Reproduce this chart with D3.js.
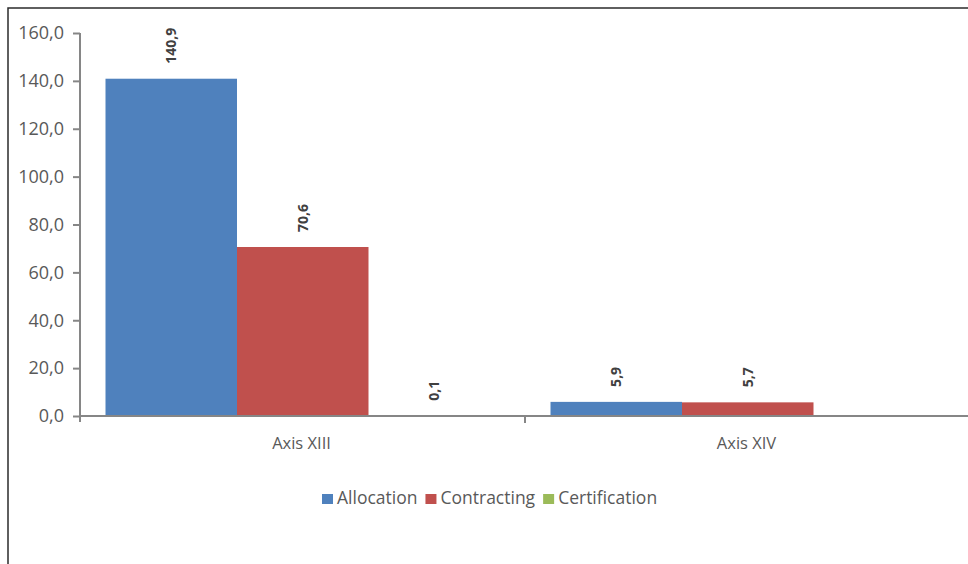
<!DOCTYPE html>
<html>
<head>
<meta charset="utf-8">
<script src="https://cdn.jsdelivr.net/npm/d3@7"></script>
<style>
  body { margin: 0; background: #fff; }
  svg { display: block; font-family: "Open Sans", sans-serif; }
</style>
</head>
<body>
<div id="chart"></div>
<script>
const categories = ['Axis XIII', 'Axis XIV'];
const seriesNames = ['Allocation', 'Contracting', 'Certification'];
const seriesColors = ['#4F81BD', '#C0504D', '#9BBB59'];
const allocation = [140.9, 5.9];
const contracting = [70.6, 5.7];
const certification = [0.1, null];
const yTicks = [0, 20, 40, 60, 80, 100, 120, 140, 160];

const width = 968, height = 564;
const margin = { top: 33, left: 80, bottom: 148 };
const plotBottom = height - margin.bottom; // 416

const fmt = v => d3.format('.1f')(v).replace('.', ',');

const svg = d3.select('#chart').append('svg')
  .attr('width', width)
  .attr('height', height);

// chart frame (only top/left visible in the photo)
svg.append('path')
  .attr('d', `M8,${height + 2}V8H${width + 2}`)
  .attr('fill', 'none')
  .attr('stroke', '#2b2b2b')
  .attr('stroke-width', 1.5);

const y = d3.scaleLinear()
  .domain([0, 160])
  .range([plotBottom, margin.top]);

const x0 = d3.scaleBand()
  .domain(categories)
  .range([margin.left, margin.left + 445 * categories.length]);

const x1 = d3.scaleBand()
  .domain(seriesNames)
  .range([25.5, x0.bandwidth() - 25]);

const rows = categories.map((c, i) => ({
  category: c,
  values: [allocation[i], contracting[i], certification[i]]
}));

// bars
const groups = svg.append('g').selectAll('g')
  .data(rows)
  .enter()
  .append('g')
  .attr('transform', d => `translate(${x0(d.category)},0)`);

groups.selectAll('rect')
  .data(d => d.values.map((v, j) => ({ name: seriesNames[j], value: v, color: seriesColors[j] })))
  .enter()
  .filter(d => d.value !== null)
  .append('rect')
  .attr('x', d => x1(d.name))
  .attr('width', x1.bandwidth())
  .attr('y', d => y(d.value))
  .attr('height', d => y(0) - y(d.value))
  .attr('fill', d => d.color);

// data labels
groups.selectAll('text')
  .data(d => d.values.map((v, j) => ({ name: seriesNames[j], value: v })))
  .enter()
  .filter(d => d.value !== null)
  .append('text')
  .attr('transform', d => `translate(${x1(d.name) + x1.bandwidth() / 2},${y(d.value) - 15}) rotate(-90)`)
  .attr('dy', '0.36em')
  .style('text-anchor', 'start')
  .style('font-size', '14px')
  .style('font-weight', 'bold')
  .style('fill', '#404040')
  .text(d => fmt(d.value));

// y axis
const yAxis = d3.axisLeft(y)
  .tickValues(yTicks)
  .tickSize(7)
  .tickPadding(9)
  .tickFormat(fmt);

const yg = svg.append('g')
  .attr('transform', `translate(${margin.left},0)`)
  .call(yAxis);
yg.select('.domain').remove();
yg.append('line')
  .attr('y1', margin.top).attr('y2', plotBottom + 6)
  .attr('stroke', '#868686').attr('stroke-width', 2);
yg.selectAll('.tick line').attr('stroke', '#868686').attr('stroke-width', 2);
yg.selectAll('.tick text')
  .style('font-size', '18px')
  .style('fill', '#595959')
  .style('font-family', '"Open Sans", sans-serif');

// x axis
const xg = svg.append('g')
  .attr('transform', `translate(0,${plotBottom})`);
xg.append('line')
  .attr('x1', margin.left).attr('x2', x0.range()[1])
  .attr('stroke', '#868686').attr('stroke-width', 2);
xg.selectAll('line.sep')
  .data(categories.slice(1))
  .enter()
  .append('line')
  .attr('class', 'sep')
  .attr('x1', d => x0(d)).attr('x2', d => x0(d))
  .attr('y1', 0).attr('y2', 7)
  .attr('stroke', '#868686').attr('stroke-width', 2);
xg.selectAll('text')
  .data(categories)
  .enter()
  .append('text')
  .attr('x', d => x0(d) + x0.bandwidth() / 2 - 1)
  .attr('y', 33)
  .style('text-anchor', 'middle')
  .style('font-size', '16.5px')
  .style('fill', '#595959')
  .text(d => d);

// legend
const legend = svg.append('g').attr('transform', 'translate(0,504)');
let lx = 322;
seriesNames.forEach((name, i) => {
  legend.append('rect')
    .attr('x', lx).attr('y', -10)
    .attr('width', 11).attr('height', 10)
    .attr('fill', seriesColors[i]);
  const t = legend.append('text')
    .attr('x', lx + 15).attr('y', 0)
    .style('font-size', '17.5px')
    .style('fill', '#595959')
    .text(name);
  lx += 15 + t.node().getComputedTextLength() + 8;
});
</script>
</body>
</html>
